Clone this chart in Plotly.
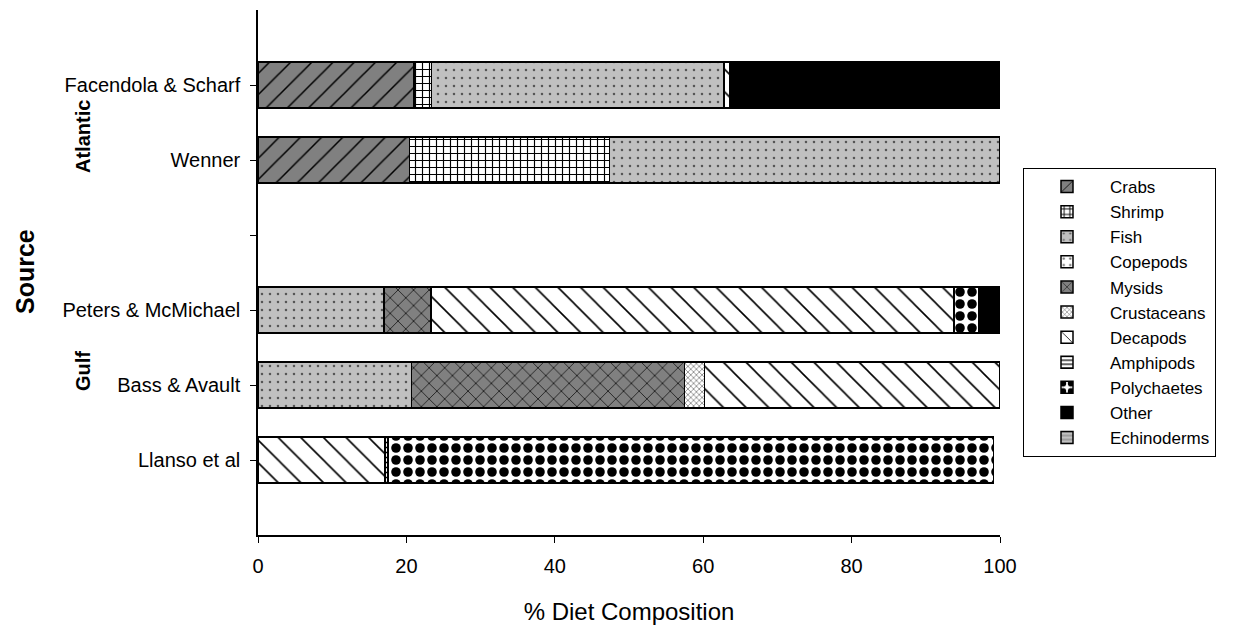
import plotly.graph_objects as go

# Categories (bottom to top); blank slot separates Gulf and Atlantic groups
sources = ["Llanso et al", "Bass & Avault", "Peters & McMichael", "", "Wenner", "Facendola & Scharf"]
positions = [0, 1, 2, 3, 4, 5]

crabs = [None, None, None, None, 20.4, 21.0]
shrimp = [None, None, None, None, 27.0, 2.4]
fish = [None, 20.7, 17.0, None, 52.6, 39.4]
copepods = [None, None, None, None, None, None]
mysids = [None, 36.8, 6.3, None, None, None]
crustaceans = [None, 2.7, None, None, None, None]
decapods = [17.1, 39.8, 70.5, None, None, 0.8]
amphipods = [0.4, None, None, None, None, None]
polychaetes = [81.6, None, 3.4, None, None, None]
other = [None, None, 2.8, None, None, 36.4]
echinoderms = [None, None, None, None, None, None]

x_ticks = [0, 20, 40, 60, 80, 100]

series = [
    ("Crabs", crabs, dict(shape="/", bgcolor="#808080", fgcolor="black", size=15, solidity=0.1)),
    ("Shrimp", shrimp, dict(shape="+", bgcolor="white", fgcolor="black", size=7, solidity=0.3)),
    ("Fish", fish, dict(shape=".", bgcolor="#c0c0c0", fgcolor="#555555", size=8, solidity=0.08)),
    ("Copepods", copepods, dict(shape=".", bgcolor="white", fgcolor="#666666", size=8, solidity=0.1)),
    ("Mysids", mysids, dict(shape="x", bgcolor="#808080", fgcolor="black", size=11, solidity=0.12)),
    ("Crustaceans", crustaceans, dict(shape="x", bgcolor="white", fgcolor="#666666", size=4, solidity=0.3)),
    ("Decapods", decapods, dict(shape="\\", bgcolor="white", fgcolor="black", size=16, solidity=0.1)),
    ("Amphipods", amphipods, dict(shape="-", bgcolor="white", fgcolor="black", size=5, solidity=0.3)),
    ("Polychaetes", polychaetes, dict(shape=".", bgcolor="white", fgcolor="black", size=12, solidity=0.5)),
    ("Other", other, None),
    ("Echinoderms", echinoderms, dict(shape="-", bgcolor="#c0c0c0", fgcolor="#666666", size=5, solidity=0.2)),
]

fig = go.Figure()
for name, vals, pat in series:
    marker = dict(line=dict(color="black", width=1.5))
    if pat is None:
        marker["color"] = "black"
    else:
        marker["color"] = pat["bgcolor"]
        marker["pattern"] = dict(shape=pat["shape"], bgcolor=pat["bgcolor"], fgcolor=pat["fgcolor"],
                                 size=pat["size"], solidity=pat["solidity"], fillmode="replace")
    fig.add_trace(go.Bar(name=name, x=vals, y=positions, orientation="h", width=0.61, marker=marker))

W, H = 1241, 629
ML, MR, MT, MB = 250, 249, 2, 102
OFF = 8  # page body margin
PW, PH = W - ML - MR, H - MT - MB


def px2paper(sx, sy):
    fx, fy = sx - OFF, sy - OFF
    return (fx - ML) / PW, (H - MB - fy) / PH


font = "Liberation Sans, Arial, sans-serif"
lx, ly = px2paper(1023, 168)
fig.update_layout(
    barmode="stack",
    width=W, height=H,
    margin=dict(l=ML, r=MR, t=MT, b=MB),
    plot_bgcolor="white", paper_bgcolor="white",
    font=dict(family=font, size=20, color="black"),
    showlegend=True,
    legend=dict(x=lx, y=ly, xanchor="left", yanchor="top",
                bordercolor="black", borderwidth=1, bgcolor="white",
                font=dict(size=17), traceorder="normal", tracegroupgap=0,
                itemwidth=76),
    xaxis=dict(range=[0, 100], tickvals=x_ticks, showgrid=False, zeroline=False,
               showline=True, linecolor="black", linewidth=1.5, ticks="outside",
               ticklen=6, tickcolor="black", tickfont=dict(size=20), ticklabelstandoff=6,
               title=dict(text="% Diet Composition", font=dict(size=24), standoff=27)),
    yaxis=dict(range=[-1, 6], tickvals=positions, ticktext=sources, showgrid=False,
               zeroline=False, showline=True, linecolor="black", linewidth=1.5,
               ticks="outside", ticklen=6, tickcolor="black", tickfont=dict(size=20),
               ticklabelstandoff=6),
)

annots = [("<b>Source</b>", 25, 272, 25), ("<b>Atlantic</b>", 83, 137, 20), ("<b>Gulf</b>", 83, 371, 20)]
for txt, sx, sy, fs in annots:
    ax, ay = px2paper(sx, sy)
    fig.add_annotation(text=txt, x=ax, y=ay, xref="paper", yref="paper",
                       showarrow=False, textangle=-90, font=dict(size=fs),
                       xanchor="center", yanchor="middle")

fig.write_html("out.html")
